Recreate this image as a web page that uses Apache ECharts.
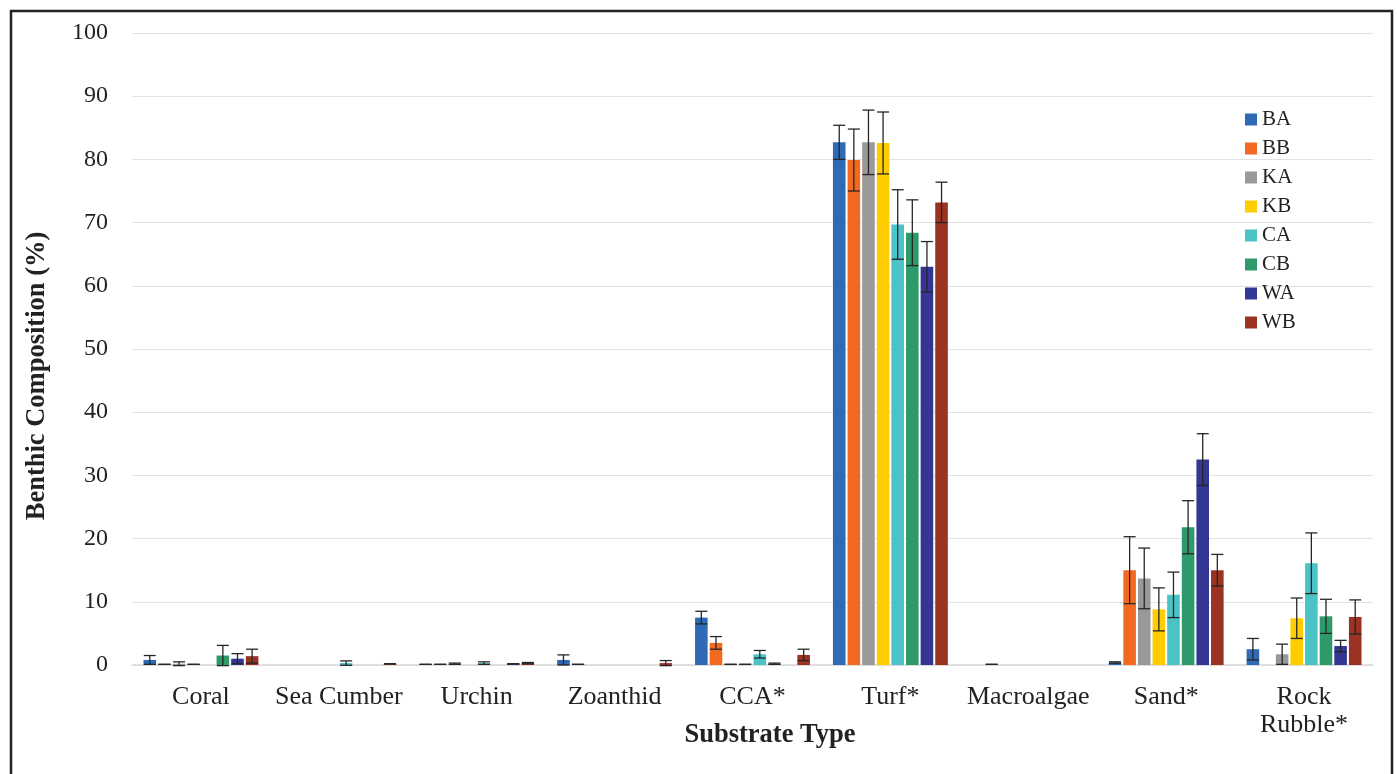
<!DOCTYPE html>
<html>
<head>
<meta charset="utf-8">
<script src="https://cdn.jsdelivr.net/npm/echarts@6/dist/echarts.min.js"></script>
<style>
  html, body { margin: 0; padding: 0; background: #fff; }
  #chart { width: 1397px; height: 774px; }
</style>
</head>
<body>
<div id="chart"></div>
<script>
const categories = ['Coral', 'Sea Cumber', 'Urchin', 'Zoanthid', 'CCA*', 'Turf*', 'Macroalgae', 'Sand*', 'Rock\nRubble*']
const seriesNames = ['BA', 'BB', 'KA', 'KB', 'CA', 'CB', 'WA', 'WB']
const colors = ['#2E6AB6', '#F26A22', '#999999', '#FFCC00', '#4BC3C6', '#2F9A69', '#343694', '#9A3322']
const yTicks = { min: 0, max: 100, interval: 10 }

// mean % cover per site
const BA = [0.8, 0, 0.1, 0.8, 7.5, 82.7, 0, 0.4, 2.5]
const BB = [0.1, 0, 0.1, 0.1, 3.5, 79.9, 0.1, 15.0, 0]
const KA = [0.2, 0, 0.2, 0, 0.1, 82.7, 0, 13.7, 1.7]
const KB = [0.1, 0, 0, 0, 0.1, 82.6, 0, 8.8, 7.4]
const CA = [0, 0.3, 0.3, 0, 1.7, 69.7, 0, 11.1, 16.1]
const CB = [1.5, 0, 0, 0, 0.2, 68.4, 0, 21.8, 7.7]
const WA = [1.0, 0, 0.2, 0, 0, 63.0, 0, 32.5, 3.0]
const WB = [1.4, 0.2, 0.3, 0.3, 1.6, 73.2, 0, 15.0, 7.6]

// standard error (+/-)
const BA_err = [0.7, 0, 0, 0.8, 1.0, 2.7, 0, 0.1, 1.7]
const BB_err = [0, 0, 0, 0, 1.0, 4.9, 0, 5.3, 0]
const KA_err = [0.3, 0, 0.1, 0, 0, 5.1, 0, 4.8, 1.6]
const KB_err = [0, 0, 0, 0, 0, 4.9, 0, 3.4, 3.2]
const CA_err = [0, 0.35, 0.2, 0, 0.6, 5.5, 0, 3.6, 4.8]
const CB_err = [1.6, 0, 0, 0, 0.1, 5.2, 0, 4.2, 2.7]
const WA_err = [0.8, 0, 0, 0, 0, 4.0, 0, 4.1, 0.9]
const WB_err = [1.1, 0, 0.1, 0.4, 0.9, 3.2, 0, 2.5, 2.7]

const values = [BA, BB, KA, KB, CA, CB, WA, WB]
const errors = [BA_err, BB_err, KA_err, KB_err, CA_err, CB_err, WA_err, WB_err]

const FONT = '"Liberation Serif", "Times New Roman", serif'
const barWidth = 12.6
const barGap = 0.16
const step = barWidth * (1 + barGap)

const errData = []
values.forEach((vals, s) => {
  vals.forEach((v, i) => {
    if (v > 0) errData.push([i, v - errors[s][i], v + errors[s][i], s])
  })
})

const chart = echarts.init(document.getElementById('chart'))

const barSeries = seriesNames.map((name, s) => ({
  name,
  type: 'bar',
  data: values[s],
  barWidth,
  barGap: (barGap * 100) + '%',
  itemStyle: { color: colors[s] },
  emphasis: { disabled: true },
}))

const titleStyle = { fontFamily: FONT, fontSize: 26.5, fontWeight: 'bold', fill: '#222', align: 'center', verticalAlign: 'middle' }

const option = {
  animation: false,
  textStyle: { fontFamily: FONT },
  graphic: [
    {
      type: 'rect',
      shape: { x: 11, y: 11, width: 1381, height: 800 },
      style: { fill: 'none', stroke: '#222', lineWidth: 2.5 },
      silent: true,
    },
    // axis titles (Excel places them slightly off the plot centre)
    { type: 'text', x: 37, y: 376, rotation: Math.PI / 2, style: { text: 'Benthic Composition (%)', ...titleStyle } },
    { type: 'text', x: 770, y: 735, style: { text: 'Substrate Type', ...titleStyle } },
  ],
  grid: { left: 132, right: 24, top: 33, bottom: 109 },
  legend: {
    orient: 'vertical',
    left: 1245,
    top: 109,
    padding: 0,
    icon: 'rect',
    itemWidth: 12,
    itemHeight: 12,
    itemGap: 8,
    textStyle: { fontFamily: FONT, fontSize: 21, lineHeight: 21, color: '#222' },
    data: seriesNames,
  },
  xAxis: {
    type: 'category',
    data: categories,
    axisLine: { lineStyle: { color: '#d9d9d9', width: 1.5 } },
    axisTick: { show: false },
    axisLabel: { fontFamily: FONT, fontSize: 26, color: '#222', margin: 18, lineHeight: 28, interval: 0 },
  },
  yAxis: {
    type: 'value',
    min: yTicks.min,
    max: yTicks.max,
    interval: yTicks.interval,
    axisLine: { show: false },
    axisTick: { show: false },
    axisLabel: { fontFamily: FONT, fontSize: 24, color: '#222', margin: 24 },
    splitLine: { lineStyle: { color: '#e2e2e2', width: 1 } },
  },
  series: [
    ...barSeries,
    {
      type: 'custom',
      name: 'err',
      data: errData,
      z: 10,
      silent: true,
      renderItem(params, api) {
        const cat = api.value(0)
        const s = api.value(3)
        const lo = api.coord([cat, api.value(1)])
        const hi = api.coord([cat, api.value(2)])
        const x = lo[0] + (s - 3.5) * step
        const cap = 6
        const style = { stroke: '#262626', lineWidth: 1.3 }
        return {
          type: 'group',
          children: [
            { type: 'line', shape: { x1: x, y1: lo[1], x2: x, y2: hi[1] }, style },
            { type: 'line', shape: { x1: x - cap, y1: hi[1], x2: x + cap, y2: hi[1] }, style },
            { type: 'line', shape: { x1: x - cap, y1: lo[1], x2: x + cap, y2: lo[1] }, style },
          ],
        }
      },
    },
  ],
}

chart.setOption(option)
</script>
</body>
</html>
